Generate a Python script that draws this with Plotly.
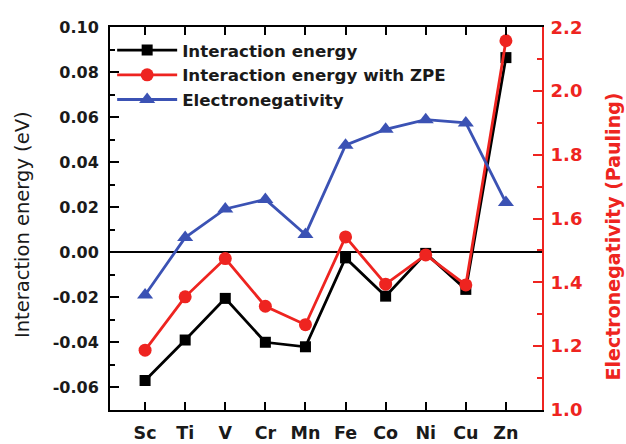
import plotly.graph_objects as go

elements = ["Sc", "Ti", "V", "Cr", "Mn", "Fe", "Co", "Ni", "Cu", "Zn"]
interaction_energy = [-0.057, -0.039, -0.0205, -0.040, -0.042, -0.0025, -0.0195, -0.0005, -0.0165, 0.0865]
interaction_energy_zpe = [-0.0435, -0.0198, -0.0028, -0.024, -0.0322, 0.0068, -0.0142, -0.0012, -0.0145, 0.094]
electronegativity = [1.36, 1.54, 1.63, 1.66, 1.55, 1.83, 1.88, 1.91, 1.90, 1.65]

left_tickvals = [-0.06, -0.04, -0.02, 0.00, 0.02, 0.04, 0.06, 0.08, 0.10]
left_ticktext = ["-0.06", "-0.04", "-0.02", "0.00", "0.02", "0.04", "0.06", "0.08", "0.10"]
right_tickvals = [1.0, 1.2, 1.4, 1.6, 1.8, 2.0, 2.2]
right_ticktext = ["1.0", "1.2", "1.4", "1.6", "1.8", "2.0", "2.2"]

BLACK = "#000000"
RED = "#ee2420"
BLUE = "#3b52b4"
FONT = "DejaVu Sans"

fig = go.Figure()
fig.add_trace(go.Scatter(
    x=elements, y=interaction_energy, name="Interaction energy",
    mode="lines+markers", line=dict(color=BLACK, width=2.8),
    marker=dict(symbol="square", size=11, color=BLACK)))
fig.add_trace(go.Scatter(
    x=elements, y=interaction_energy_zpe, name="Interaction energy with ZPE",
    mode="lines+markers", line=dict(color=RED, width=2.8),
    marker=dict(symbol="circle", size=13, color=RED)))
fig.add_trace(go.Scatter(
    x=elements, y=electronegativity, name="Electronegativity", yaxis="y2",
    mode="lines+markers", line=dict(color=BLUE, width=2.8),
    marker=dict(symbol="triangle-up", size=14, color=BLUE)))

fig.update_layout(
    template="none",
    width=626, height=444,
    margin=dict(l=110, r=84, t=27, b=34, autoexpand=False),
    paper_bgcolor="white", plot_bgcolor="white",
    font=dict(family=FONT, color=BLACK),
    showlegend=True,
    legend=dict(x=0.005, y=0.985, xanchor="left", yanchor="top",
                bgcolor="rgba(0,0,0,0)", font=dict(family=FONT, size=16.7, color="#1a1a1a", weight="bold"),
                itemwidth=60, tracegroupgap=0),
    xaxis=dict(
        type="category", range=[-0.875, 9.9], automargin=False,
        showline=True, linecolor=BLACK, linewidth=2, mirror="ticks",
        ticks="inside", ticklen=8, tickwidth=1.5, tickcolor=BLACK,
        showgrid=False, zeroline=False,
        ticklabelstandoff=6,
        tickfont=dict(family=FONT, size=17.5, color="#1a1a1a", weight="bold")),
    yaxis=dict(
        range=[-0.0701, 0.1001], automargin=False,
        tickvals=left_tickvals, ticktext=left_ticktext,
        showline=True, linecolor=BLACK, linewidth=2, mirror=False,
        ticks="inside", ticklen=9, tickwidth=1.5, tickcolor=BLACK,
        minor=dict(dtick=0.01, tick0=0, ticks="inside", ticklen=5, tickwidth=1.5, tickcolor=BLACK, showgrid=False),
        showgrid=False,
        zeroline=True, zerolinecolor=BLACK, zerolinewidth=1.5,
        ticklabelstandoff=6,
        tickfont=dict(family=FONT, size=16, color="#1a1a1a", weight="bold")),
    yaxis2=dict(
        overlaying="y", side="right", automargin=False,
        range=[0.999, 2.201],
        tickvals=right_tickvals, ticktext=right_ticktext,
        showline=True, linecolor=RED, linewidth=2,
        ticks="inside", ticklen=9, tickwidth=1.5, tickcolor=RED,
        minor=dict(dtick=0.1, tick0=1.0, ticks="inside", ticklen=5, tickwidth=1.5, tickcolor=RED, showgrid=False),
        showgrid=False, zeroline=False,
        ticklabelstandoff=3,
        tickfont=dict(family=FONT, size=18, color=RED, weight="bold")),
    annotations=[
        dict(text="Interaction energy (eV)", xref="paper", yref="paper",
             x=-0.2037, y=0.483, xanchor="center", yanchor="middle", textangle=-90,
             showarrow=False, font=dict(family=FONT, size=19.5, color="#1a1a1a")),
        dict(text="Electronegativity (Pauling)", xref="paper", yref="paper",
             x=1.165, y=0.454, xanchor="center", yanchor="middle", textangle=-90,
             showarrow=False, font=dict(family=FONT, size=19, color=RED, weight="bold")),
    ],
)

fig.write_html("out.html", config={"displayModeBar": False},
               post_script="document.body.style.margin='0';document.body.style.overflow='hidden';")
